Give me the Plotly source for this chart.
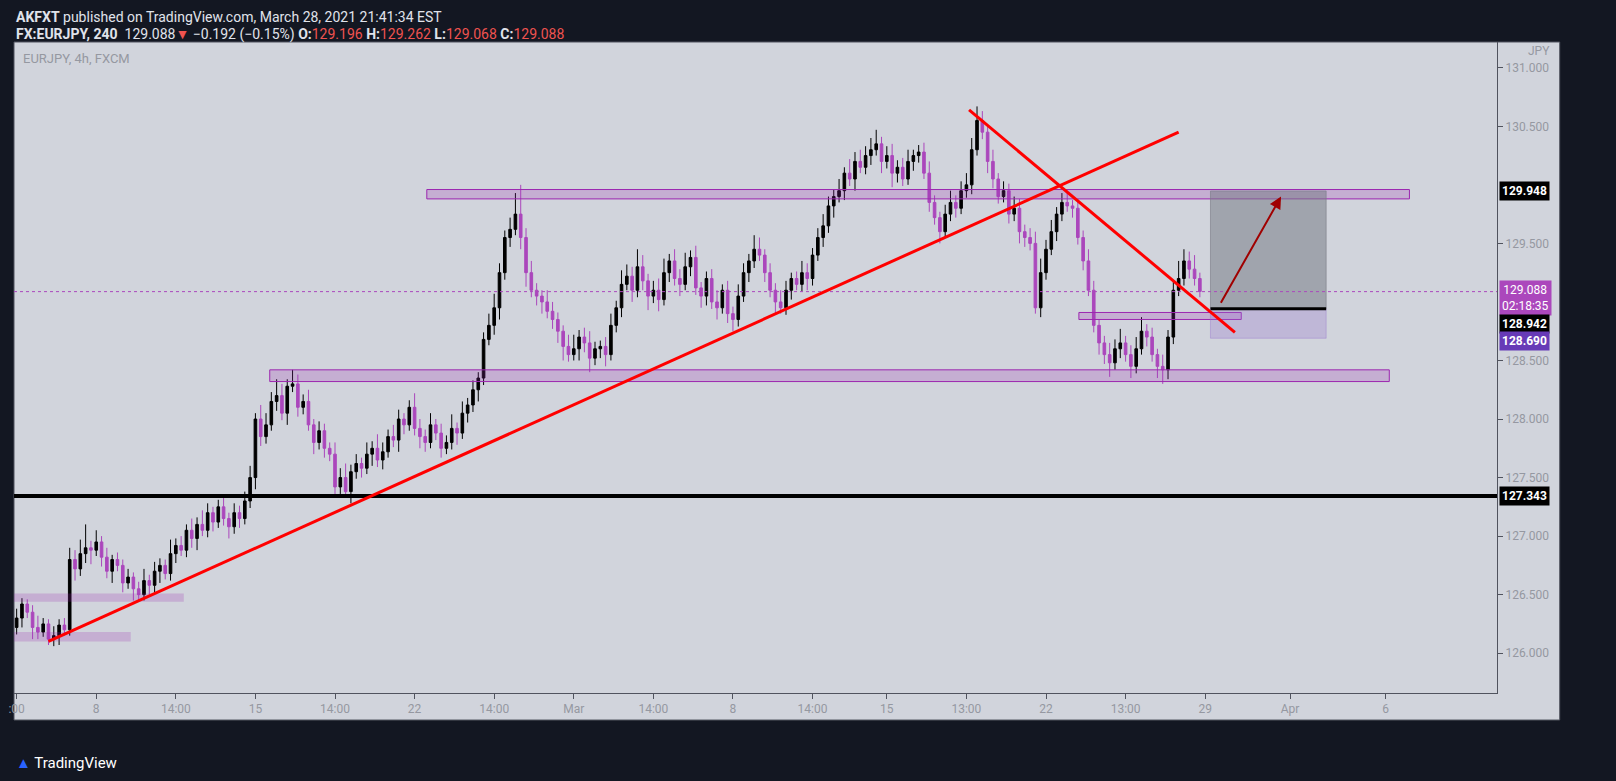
import plotly.graph_objects as go

# 4h EURJPY candles (bar index on x)
closes = [
    126.30, 126.42, 126.35, 126.22, 126.18, 126.25, 126.12, 126.15, 126.24, 126.20,
    126.80, 126.72, 126.85, 126.90, 126.88, 126.95, 126.82, 126.70, 126.80, 126.75,
    126.60, 126.65, 126.55, 126.50, 126.62, 126.58, 126.70, 126.75, 126.68, 126.85,
    126.92, 126.88, 127.05, 126.98, 127.10, 127.05, 127.20, 127.12, 127.25, 127.15,
    127.08, 127.20, 127.15, 127.30, 127.50, 128.00, 127.85, 127.95, 128.15, 128.20,
    128.05, 128.28, 128.30, 128.10, 128.15, 127.95, 127.80, 127.90, 127.75, 127.70,
    127.42, 127.50, 127.38, 127.55, 127.62, 127.58, 127.70, 127.75, 127.65, 127.72,
    127.85, 127.82, 128.00, 127.95, 128.10, 127.92, 127.85, 127.80, 127.95, 127.88,
    127.75, 127.80, 127.92, 127.88, 128.05, 128.12, 128.25, 128.35, 128.68, 128.80,
    128.95, 129.25, 129.55, 129.62, 129.75, 129.55, 129.25, 129.10, 129.05, 129.00,
    128.92, 128.85, 128.75, 128.62, 128.55, 128.60, 128.70, 128.65, 128.52, 128.60,
    128.62, 128.55, 128.80, 128.95, 129.15, 129.22, 129.10, 129.30, 129.18, 129.05,
    129.10, 129.02, 129.25, 129.35, 129.20, 129.15, 129.30, 129.38, 129.12, 129.05,
    129.20, 129.00, 128.95, 129.10, 128.90, 128.85, 129.05, 129.25, 129.35, 129.45,
    129.40, 129.25, 129.10, 129.00, 128.95, 129.10, 129.20, 129.15, 129.25, 129.20,
    129.40, 129.55, 129.65, 129.82, 129.90, 129.95, 130.10, 130.05, 130.20, 130.15,
    130.25, 130.30, 130.35, 130.20, 130.25, 130.10, 130.15, 130.05, 130.20, 130.25,
    130.28, 130.10, 129.85, 129.72, 129.60, 129.75, 129.85, 129.80, 129.95, 130.00,
    130.30, 130.55, 130.45, 130.20, 130.05, 129.90, 129.95, 129.75, 129.80, 129.60,
    129.55, 129.50, 128.95, 129.25, 129.45, 129.60, 129.75, 129.85, 129.82, 129.80,
    129.55, 129.35, 129.10, 128.80, 128.65, 128.55, 128.48, 128.60, 128.65, 128.55,
    128.45, 128.60, 128.75, 128.70, 128.55, 128.45, 128.42, 128.70, 129.10, 129.20,
    129.35, 129.28, 129.20, 129.09,
]
opens = [126.22] + closes[:-1]
upper_wicks = [
    .08, .05, .04, .06, .10, .05, .04, .08, .05, .06,
    .10, .08, .12, .20, .06, .10, .05, .08, .04, .06,
    .05, .07, .04, .06, .10, .05, .08, .06, .05, .12,
    .06, .08, .05, .10, .06, .12, .08, .05, .06, .10,
    .05, .08, .06, .08, .10, .05, .12, .10, .08, .14,
    .10, .06, .12, .08, .06, .10, .05, .08, .06, .05,
    .10, .08, .12, .06, .08, .05, .10, .06, .12, .08,
    .06, .10, .08, .05, .06, .12, .08, .06, .10, .05,
    .08, .06, .12, .05, .10, .06, .08, .05, .06, .10,
    .12, .08, .06, .10, .18, .25, .08, .10, .06, .05,
    .10, .08, .06, .05, .10, .12, .06, .08, .10, .06,
    .05, .08, .10, .06, .12, .10, .08, .15, .10, .06,
    .08, .10, .12, .06, .10, .08, .12, .06, .10, .05,
    .06, .08, .10, .05, .08, .06, .10, .08, .06, .12,
    .10, .05, .08, .06, .10, .08, .05, .06, .10, .08,
    .06, .08, .10, .08, .06, .10, .05, .12, .08, .10,
    .08, .10, .12, .06, .08, .10, .06, .08, .10, .05,
    .06, .08, .10, .06, .05, .08, .10, .06, .08, .10,
    .10, .12, .08, .06, .10, .05, .08, .06, .10, .08,
    .06, .08, .10, .12, .08, .10, .06, .08, .10, .05,
    .08, .06, .10, .08, .05, .06, .10, .08, .12, .06,
    .08, .10, .12, .06, .08, .05, .10, .06, .08, .15,
    .10, .08, .12, .05,
]
lower_wicks = [
    .06, .08, .05, .10, .06, .04, .05, .06, .08, .05,
    .05, .10, .06, .08, .12, .05, .08, .06, .10, .05,
    .08, .05, .10, .06, .05, .08, .06, .10, .05, .06,
    .08, .05, .06, .08, .10, .05, .06, .08, .05, .06,
    .10, .06, .08, .05, .06, .10, .08, .06, .05, .08,
    .06, .10, .05, .08, .06, .05, .10, .06, .08, .06,
    .08, .06, .05, .10, .06, .08, .05, .10, .06, .08,
    .05, .06, .10, .08, .05, .06, .10, .08, .05, .06,
    .08, .05, .06, .10, .05, .08, .06, .10, .06, .05,
    .08, .10, .06, .08, .05, .10, .12, .06, .08, .10,
    .06, .08, .10, .12, .06, .05, .10, .08, .12, .06,
    .08, .10, .05, .06, .08, .05, .10, .06, .08, .12,
    .06, .10, .05, .08, .06, .10, .05, .08, .06, .10,
    .08, .06, .10, .05, .08, .10, .06, .05, .08, .06,
    .05, .08, .06, .10, .05, .06, .08, .05, .06, .10,
    .06, .05, .08, .06, .10, .05, .08, .06, .10, .05,
    .06, .08, .05, .10, .06, .12, .08, .06, .05, .08,
    .06, .05, .08, .06, .10, .05, .06, .08, .05, .06,
    .08, .05, .06, .10, .08, .06, .05, .08, .06, .10,
    .08, .06, .05, .08, .06, .05, .08, .06, .05, .08,
    .06, .08, .05, .06, .10, .08, .12, .06, .08, .06,
    .10, .06, .05, .08, .06, .10, .12, .08, .06, .05,
    .06, .08, .06, .05,
]
bars = list(range(len(closes)))
highs = [max(o, c) + w for o, c, w in zip(opens, closes, upper_wicks)]
lows = [min(o, c) - w for o, c, w in zip(opens, closes, lower_wicks)]

tick_vals = [0, 15, 30, 45, 60, 75, 90, 105, 120, 135, 150, 164, 179, 194, 209, 224, 240, 258]
tick_text = [":00", "8", "14:00", "15", "14:00", "22", "14:00", "Mar", "14:00", "8",
             "14:00", "15", "13:00", "22", "13:00", "29", "Apr", "6"]
# 130.000 and 129.000 are hidden behind the price badges
price_ticks = [126.0, 126.5, 127.0, 127.5, 128.0, 128.5, 129.5, 130.5, 131.0]

last_price = 129.088
entry = 128.942
target = 129.948
stop = 128.690
support = 127.343

PURPLE = "#ab47bc"
ZONE = "rgba(156,39,176,0.22)"
DARK = "#131722"

fig = go.Figure(go.Candlestick(
    x=bars, open=opens, high=highs, low=lows, close=closes,
    increasing=dict(line=dict(color="black", width=1), fillcolor="black"),
    decreasing=dict(line=dict(color=PURPLE, width=1), fillcolor=PURPLE),
    whiskerwidth=0, hoverinfo="skip",
))

# light panel behind plot + axes
fig.add_shape(type="rect", xref="paper", yref="paper", x0=0, x1=1.0423, y0=-0.0415, y1=1,
              fillcolor="#d1d4dc", line=dict(color="#50535e", width=1), layer="below")

def zone(x0, x1, y0, y1, border=True):
    fig.add_shape(type="rect", x0=x0, x1=x1, y0=y0, y1=y1, fillcolor=ZONE,
                  line=dict(color="#9c27b0" if border else "rgba(0,0,0,0)", width=1))

zone(77.3, 262.5, 129.88, 129.96)
zone(47.7, 258.7, 128.32, 128.42)
zone(200.2, 230.8, 128.85, 128.91)
zone(-2, 31.5, 126.44, 126.51, border=False)
zone(-2, 21.5, 126.10, 126.18, border=False)

# position tool
fig.add_shape(type="rect", x0=225, x1=246.8, y0=entry, y1=target,
              fillcolor="rgba(120,123,134,0.55)", line=dict(color="rgba(120,123,134,0.6)", width=1))
fig.add_shape(type="rect", x0=225, x1=246.8, y0=stop, y1=entry,
              fillcolor="rgba(149,117,205,0.3)", line=dict(color="rgba(149,117,205,0.4)", width=1))
fig.add_shape(type="line", x0=225, x1=246.8, y0=entry, y1=entry, line=dict(color="black", width=3))

fig.add_hline(y=support, line=dict(color="black", width=4))
fig.add_hline(y=last_price, line=dict(color=PURPLE, width=1, dash="dot"))

fig.add_shape(type="line", x0=6, y0=126.10, x1=219, y1=130.45, line=dict(color="#ff0000", width=3))
fig.add_shape(type="line", x0=179.5, y0=130.64, x1=229.6, y1=128.74, line=dict(color="#ff0000", width=3))

fig.add_annotation(x=238.3, y=129.90, ax=226.8, ay=128.98, xref="x", yref="y", axref="x", ayref="y",
                   text="", showarrow=True, arrowhead=2, arrowsize=1.2, arrowwidth=2, arrowcolor="#a00000")

# price badges on the axis (stacked like TradingView does)
def badge(y, text, bg, fg="white"):
    fig.add_annotation(x=1, xref="paper", y=y, yref="y", xanchor="left", text=text, showarrow=False,
                       bgcolor=bg, font=dict(color=fg, size=12, family="Roboto"), borderpad=2, xshift=2)

badge(target, "<b>129.948</b>", "black")
badge(129.03, "129.088<br>02:18:35", PURPLE)
badge(128.81, "<b>128.942</b>", "black")
badge(128.665, "<b>128.690</b>", "#673ab7")
badge(support, "<b>127.343</b>", "black")

fig.add_annotation(x=0.005, y=0.99, xref="paper", yref="paper", xanchor="left", yanchor="top",
                   text="EURJPY, 4h, FXCM", showarrow=False, font=dict(color="#9598a1", size=13, family="Roboto"))
fig.add_annotation(x=1.037, y=1.0, xref="paper", yref="paper", xanchor="right", yanchor="top",
                   text="JPY", showarrow=False, font=dict(color="#9598a1", size=12, family="Roboto"))
fig.add_annotation(x=0.0, y=1.039, xref="paper", yref="paper", xanchor="left", yanchor="middle",
                   text="<b>AKFXT</b> published on TradingView.com, March 28, 2021 21:41:34 EST",
                   showarrow=False, font=dict(color="#e0e3eb", size=14, family="Roboto"))
fig.add_annotation(x=0.0, y=1.012, xref="paper", yref="paper", xanchor="left", yanchor="middle",
                   text="<b>FX:EURJPY, 240</b>  129.088<span style='color:#ef5350'>▼</span> −0.192 (−0.15%) "
                        "<b>O:</b><span style='color:#ef5350'>129.196</span> <b>H:</b><span style='color:#ef5350'>129.262</span> "
                        "<b>L:</b><span style='color:#ef5350'>129.068</span> <b>C:</b><span style='color:#ef5350'>129.088</span>",
                   showarrow=False, font=dict(color="#e0e3eb", size=14, family="Roboto"))
fig.add_annotation(x=0.0, y=-0.09, xref="paper", yref="paper", xanchor="left", yanchor="top",
                   text="<span style='color:#2962ff'>▲</span> TradingView", showarrow=False,
                   font=dict(color="white", size=15, family="Roboto"))

fig.update_layout(
    width=1616, height=781,
    margin=dict(l=8, r=119, t=42, b=88),
    paper_bgcolor=DARK, plot_bgcolor="#d1d4dc",
    showlegend=False,
    font=dict(family="Roboto", color="#787b86", size=12),
    xaxis=dict(range=[-0.5, 279], tickvals=tick_vals, ticktext=tick_text, showgrid=False,
               zeroline=False, rangeslider=dict(visible=False), ticks="outside", ticklen=5,
               tickcolor="#50535e", showline=True, linecolor="#50535e", tickfont=dict(color="#9598a1")),
    yaxis=dict(range=[125.66, 131.22], side="right", tickvals=price_ticks,
               tickformat=".3f", showgrid=False, zeroline=False, ticks="outside", ticklen=5,
               tickcolor="#50535e", showline=True, linecolor="#50535e", tickfont=dict(color="#9598a1")),
)

fig.write_html("out.html", config={"displayModeBar": False},
               post_script="document.body.style.margin='0';document.body.style.overflow='hidden';"
               "document.body.style.background='#131722';")
